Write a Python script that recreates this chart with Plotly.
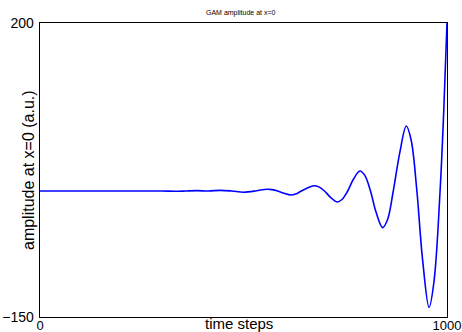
import plotly.graph_objects as go

# Data (GAM amplitude vs time step)
steps = [0, 100, 200, 300, 330, 358, 386, 414, 443, 471, 500, 529,
         542, 558, 570, 584,
         600, 616, 628, 642,
         657, 673, 685, 699,
         714, 730, 742, 756,
         770, 786, 798, 812,
         826, 842, 854, 868,
         884, 900, 912, 926,
         940, 956, 968, 983,
         992, 1000]
amplitude = [0, 0, 0, 0, -0.3, 0, 0.4, 0, 0.8, 0, -1.5, 0,
             1.2, 2.0, 1.6, 0,
             -2.8, -4.8, -3.7, 0,
             3.7, 6.3, 4.9, 0,
             -7.7, -13.0, -10.1, 0,
             14.0, 23.8, 18.6, 0,
             -25.7, -43.6, -34.0, 0,
             45.7, 77.4, 60.4, 0,
             -81.7, -138.5, -108.0, 0,
             95.0, 200.0]

x_ticks = [0, 1000]
y_ticks = [-150, 200]
y_tick_text = ["\u2212150", "200"]

FONT = "Liberation Sans, Arial, sans-serif"

fig = go.Figure()
fig.add_trace(go.Scatter(
    x=steps, y=amplitude, mode="lines",
    line=dict(color="#0000ff", width=1.6, shape="spline", smoothing=1.0),
    hoverinfo="skip", showlegend=False,
))

fig.update_layout(
    width=462, height=332,
    margin=dict(l=40, r=15, t=23, b=15, autoexpand=False),
    paper_bgcolor="white", plot_bgcolor="white",
    font=dict(family=FONT, color="black", size=13),
    showlegend=False,
    hovermode=False,
    xaxis=dict(range=[0, 1000], tickvals=x_ticks, ticktext=[str(v) for v in x_ticks],
               showgrid=False, zeroline=False, showline=True, linecolor="black",
               linewidth=1.4, mirror=True, ticks="", tickfont=dict(size=13),
               automargin=False, ticklabelstandoff=-4, ticklabeloverflow="allow"),
    yaxis=dict(range=[-150, 200], tickvals=y_ticks, ticktext=y_tick_text,
               showgrid=False, zeroline=False, showline=True, linecolor="black",
               linewidth=1.4, mirror=True, ticks="", tickfont=dict(size=14),
               automargin=False, ticklabelstandoff=2, ticklabeloverflow="allow"),
    annotations=[
        dict(text="GAM amplitude at x=0", xref="paper", yref="paper",
             x=0.495, y=1, yshift=10, xanchor="center", yanchor="middle",
             showarrow=False, font=dict(size=7, family=FONT)),
        dict(text="time steps", xref="paper", yref="paper",
             x=0.49, y=0, yshift=-6, xanchor="center", yanchor="middle",
             showarrow=False, font=dict(size=15, family=FONT)),
        dict(text="amplitude at x=0 (a.u.)", xref="paper", yref="paper",
             x=0, xshift=-12, y=0.5, xanchor="center", yanchor="middle",
             textangle=-90, showarrow=False, font=dict(size=16, family=FONT)),
    ],
)

# remove the page's default body margin so the figure fills the window exactly
fig.write_html("out.html",
               config={"displayModeBar": False, "staticPlot": True},
               post_script="document.body.style.margin='0px';"
                           "document.body.style.overflow='hidden';")
